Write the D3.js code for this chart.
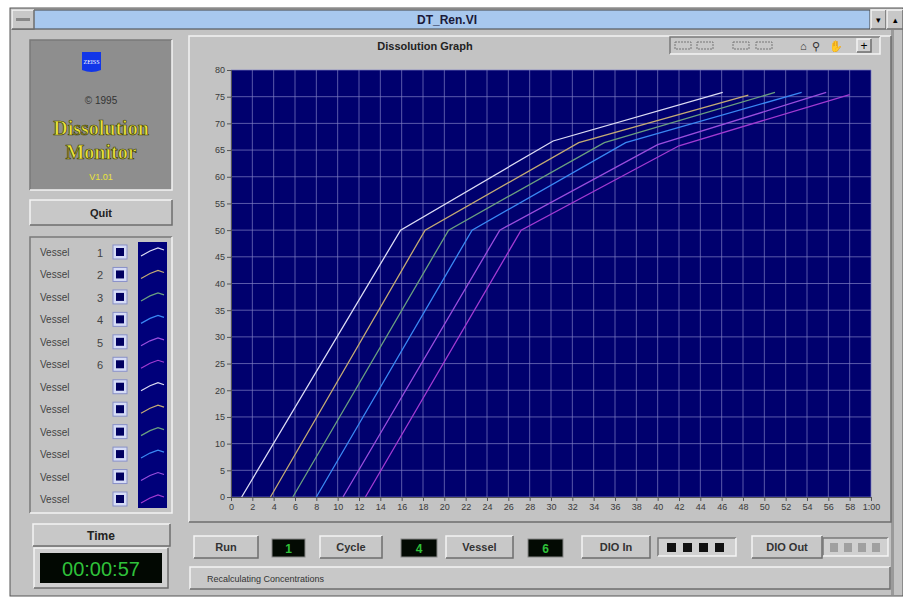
<!DOCTYPE html>
<html>
<head>
<meta charset="utf-8">
<script src="https://cdn.jsdelivr.net/npm/d3@7"></script>
<style>
  body { margin: 0; background: #ffffff; }
  svg { display: block; font-family: "Liberation Sans", Arial, sans-serif; }
</style>
</head>
<body>
<script>
// vessel data: time (x) and concentration (y)
const vesselIds = [1, 2, 3, 4, 5, 6];
const timeV1 = [1, 15.9, 30.2, 46.1];
const concV1 = [0, 50, 66.7, 75.8];
const timeV2 = [3.7, 18.2, 32.6, 48.5];
const concV2 = [0, 50, 66.4, 75.3];
const timeV3 = [5.8, 20.4, 35, 51];
const concV3 = [0, 50, 66.4, 75.8];
const timeV4 = [8, 22.6, 37, 53.5];
const concV4 = [0, 50, 66.4, 75.8];
const timeV5 = [10.5, 25.2, 40, 55.8];
const concV5 = [0, 50, 66, 75.8];
const timeV6 = [12.6, 27.2, 42, 58];
const concV6 = [0, 50, 65.8, 75.4];
const xTicks = d3.range(0, 61, 2);
const yTicks = d3.range(0, 81, 5);
const vesselRows = ["1", "2", "3", "4", "5", "6", "", "", "", "", "", ""];

const seriesColors = ["#dcdcf4", "#c4ab74", "#6a9f80", "#3a88f4", "#9a4ede", "#a23ad2"];

var W = 903, H = 600;
var svg = d3.select("body").append("svg").attr("width", W).attr("height", H);

// 3d windows style box
function bevel(x, y, w, h, raised, fill) {
  var g = svg.append("g");
  g.append("rect").attr("x", x).attr("y", y).attr("width", w).attr("height", h)
    .attr("fill", fill || "#c3c3c3");
  var lt = raised ? "#f4f4f4" : "#7a7a7a";
  var dk = raised ? "#6e6e6e" : "#f4f4f4";
  g.append("path").attr("d", `M${x},${y + h}V${y}H${x + w}`).attr("fill", "none").attr("stroke", lt).attr("stroke-width", 1.5);
  g.append("path").attr("d", `M${x + w},${y}V${y + h}H${x}`).attr("fill", "none").attr("stroke", dk).attr("stroke-width", 1.5);
  return g;
}

// window frame
svg.append("rect").attr("x", 10).attr("y", 8).attr("width", 893).attr("height", 588).attr("fill", "#c3c3c3")
  .attr("stroke", "#555").attr("stroke-width", 1);
svg.append("rect").attr("x", 12).attr("y", 10).attr("width", 858).attr("height", 19).attr("fill", "#a8c8ee")
  .attr("stroke", "#444").attr("stroke-width", 1);
bevel(12, 10, 22, 19, true, "#c8c8c8");
svg.append("rect").attr("x", 16).attr("y", 18).attr("width", 14).attr("height", 3).attr("fill", "#888");
bevel(871, 10, 15, 19, true, "#c8c8c8");
bevel(887, 10, 16, 19, true, "#c8c8c8");
svg.append("text").attr("x", 878).attr("y", 23).attr("text-anchor", "middle").attr("font-size", 9).text("▾");
svg.append("text").attr("x", 895).attr("y", 23).attr("text-anchor", "middle").attr("font-size", 9).text("▴");
svg.append("text").attr("x", 447).attr("y", 24).attr("text-anchor", "middle")
  .attr("font-size", 12).attr("font-weight", "bold").attr("fill", "#1a1a3a").text("DT_Ren.VI");
// right edge strip
svg.append("rect").attr("x", 891).attr("y", 30).attr("width", 3).attr("height", 565).attr("fill", "#9a9a9a");

// logo box
bevel(30, 40, 142, 150, false, "#8e8e8e");
svg.append("path").attr("d", "M82,52H101V70Q91.5,74 82,70Z").attr("fill", "#1236e8");
svg.append("text").attr("x", 91.5).attr("y", 64).attr("text-anchor", "middle").attr("font-size", 6)
  .style("font-family", "Liberation Serif, serif").attr("fill", "#fff").text("ZEISS");
svg.append("text").attr("x", 101).attr("y", 104).attr("text-anchor", "middle").attr("font-size", 10)
  .attr("fill", "#333").text("© 1995");
[["Dissolution", 135], ["Monitor", 159]].forEach(function (d) {
  svg.append("text").attr("x", 101).attr("y", d[1]).attr("text-anchor", "middle")
    .style("font-family", "'Liberation Serif', 'DejaVu Serif', serif").attr("font-weight", "bold").attr("font-size", 20)
    .attr("fill", "#ebe43a").attr("stroke", "#3c3c08").attr("stroke-width", 0.7).text(d[0]);
});
svg.append("text").attr("x", 101).attr("y", 180).attr("text-anchor", "middle").attr("font-size", 9)
  .attr("fill", "#e9e33a").text("V1.01");

// quit button
bevel(30, 200, 142, 25, true, "#c8c8c8");
svg.append("text").attr("x", 101).attr("y", 217).attr("text-anchor", "middle").attr("font-size", 11)
  .attr("font-weight", "bold").attr("fill", "#222").text("Quit");

// vessel list
bevel(30, 237, 142, 276, false, "#c3c3c3");
svg.append("rect").attr("x", 138).attr("y", 242).attr("width", 29).attr("height", 266).attr("fill", "#00007a");
var rowY = d3.scaleLinear().domain([0, 11]).range([252, 499]);
var icon = d3.line().x(d => d[0]).y(d => d[1]);
vesselRows.forEach(function (lab, i) {
  var y = rowY(i);
  svg.append("text").attr("x", 40).attr("y", y + 4).attr("font-size", 10).attr("fill", "#444").text("Vessel");
  svg.append("text").attr("x", 97).attr("y", y + 5).attr("font-size", 11).attr("fill", "#444").text(lab);
  svg.append("rect").attr("x", 113).attr("y", y - 7).attr("width", 14).attr("height", 14)
    .attr("fill", "#d6dcf6").attr("stroke", "#8890c8");
  svg.append("rect").attr("x", 116).attr("y", y - 4).attr("width", 8).attr("height", 8).attr("fill", "#000060");
  svg.append("path").attr("d", icon([[141, y + 4], [150, y - 1], [158, y - 4], [164, y - 2]]))
    .attr("fill", "none").attr("stroke", seriesColors[i % 6]).attr("stroke-width", 1.2);
});

// time display
bevel(33, 524, 137, 22, true, "#c8c8c8");
svg.append("text").attr("x", 101).attr("y", 540).attr("text-anchor", "middle").attr("font-size", 12)
  .attr("font-weight", "bold").attr("fill", "#222").text("Time");
bevel(34, 548, 134, 40, true, "#d0d0d0");
svg.append("rect").attr("x", 40).attr("y", 553).attr("width", 122).attr("height", 30).attr("fill", "#020802");
svg.append("text").attr("x", 101).attr("y", 576).attr("text-anchor", "middle").attr("font-size", 20)
  .attr("fill", "#2fc13a").text("00:00:57");

// graph panel
bevel(189, 36, 702, 486, true, "#c3c3c3");
svg.append("text").attr("x", 425).attr("y", 50).attr("text-anchor", "middle").attr("font-size", 11)
  .attr("font-weight", "bold").attr("fill", "#222").text("Dissolution Graph");
bevel(670, 37, 210, 17, false, "#c8c8c8");
[675, 697, 733, 756].forEach(function (x) {
  svg.append("rect").attr("x", x).attr("y", 42).attr("width", 16).attr("height", 7).attr("fill", "none")
    .attr("stroke", "#777").attr("stroke-dasharray", "2,1");
});
svg.append("text").attr("x", 800).attr("y", 50).attr("font-size", 11).attr("fill", "#333").text("⌂");
svg.append("text").attr("x", 812).attr("y", 50).attr("font-size", 11).attr("fill", "#333").text("⚲");
svg.append("text").attr("x", 829).attr("y", 50).attr("font-size", 11).attr("fill", "#333").text("✋");
bevel(857, 39, 14, 13, true, "#d0d0d0");
svg.append("text").attr("x", 864).attr("y", 50).attr("text-anchor", "middle").attr("font-size", 12).text("+");

var plot = { left: 231, right: 871, top: 70, bottom: 497 };
var x = d3.scaleLinear().domain([0, 60]).range([plot.left, plot.right]);
var y = d3.scaleLinear().domain([0, 80]).range([plot.bottom, plot.top]);

svg.append("rect").attr("x", plot.left).attr("y", plot.top)
  .attr("width", plot.right - plot.left).attr("height", plot.bottom - plot.top).attr("fill", "#00006e");

// grid
svg.append("g").selectAll("line").data(xTicks).enter().append("line")
  .attr("x1", d => x(d)).attr("x2", d => x(d)).attr("y1", plot.top).attr("y2", plot.bottom)
  .attr("stroke", "#7f7fc4").attr("stroke-width", 1).attr("opacity", 0.7);
svg.append("g").selectAll("line").data(yTicks).enter().append("line")
  .attr("y1", d => y(d)).attr("y2", d => y(d)).attr("x1", plot.left).attr("x2", plot.right)
  .attr("stroke", "#7f7fc4").attr("stroke-width", 1).attr("opacity", 0.7);

// axes
var xAxis = d3.axisBottom(x).tickValues(xTicks).tickSize(4).tickPadding(3)
  .tickFormat(d => d === 60 ? "1:00" : d);
var yAxis = d3.axisLeft(y).tickValues(yTicks).tickSize(4).tickPadding(2);
var gx = svg.append("g").attr("transform", `translate(0,${plot.bottom})`).call(xAxis);
var gy = svg.append("g").attr("transform", `translate(${plot.left},0)`).call(yAxis);
[gx, gy].forEach(function (g) {
  g.select(".domain").attr("stroke", "#555");
  g.selectAll(".tick line").attr("stroke", "#555");
  g.selectAll("text").attr("font-size", 9).attr("fill", "#3a3a3a")
    .style("font-family", "'Liberation Sans Narrow', 'Liberation Sans', sans-serif");
});

// series
var times = [timeV1, timeV2, timeV3, timeV4, timeV5, timeV6];
var concs = [concV1, concV2, concV3, concV4, concV5, concV6];
var line = d3.line().x(d => x(d[0])).y(d => y(d[1]));
vesselIds.forEach(function (id, i) {
  var pts = times[i].map((t, j) => [t, concs[i][j]]);
  svg.append("path").datum(pts).attr("d", line).attr("fill", "none")
    .attr("stroke", seriesColors[i]).attr("stroke-width", 1.3);
});

// bottom indicators
function labelBox(x0, w, txt) {
  bevel(x0, 536, w, 22, true, "#c8c8c8");
  svg.append("text").attr("x", x0 + w / 2).attr("y", 551).attr("text-anchor", "middle").attr("font-size", 11)
    .attr("font-weight", "bold").attr("fill", "#333").text(txt);
}
function digit(x0, w, txt) {
  svg.append("rect").attr("x", x0).attr("y", 539).attr("width", w).attr("height", 18).attr("fill", "#030a03")
    .attr("stroke", "#888");
  svg.append("text").attr("x", x0 + w / 2).attr("y", 553).attr("text-anchor", "middle").attr("font-size", 12)
    .attr("font-weight", "bold").attr("fill", "#2fc13a").text(txt);
}
labelBox(194, 64, "Run"); digit(272, 33, "1");
labelBox(320, 62, "Cycle"); digit(401, 36, "4");
labelBox(446, 67, "Vessel"); digit(528, 35, "6");
labelBox(582, 68, "DIO In");
bevel(658, 538, 78, 18, false, "#d0d0d0");
d3.range(4).forEach(i => svg.append("rect").attr("x", 667 + i * 16).attr("y", 543).attr("width", 9).attr("height", 9).attr("fill", "#111"));
labelBox(752, 70, "DIO Out");
bevel(823, 538, 65, 18, false, "#d0d0d0");
d3.range(4).forEach(i => svg.append("rect").attr("x", 830 + i * 14).attr("y", 543).attr("width", 8).attr("height", 9).attr("fill", "#a0a0a0"));

// status bar
bevel(190, 567, 700, 22, true, "#c8c8c8");
svg.append("text").attr("x", 207).attr("y", 582).attr("font-size", 9).attr("fill", "#333").text("Recalculating Concentrations");
</script>
</body>
</html>
